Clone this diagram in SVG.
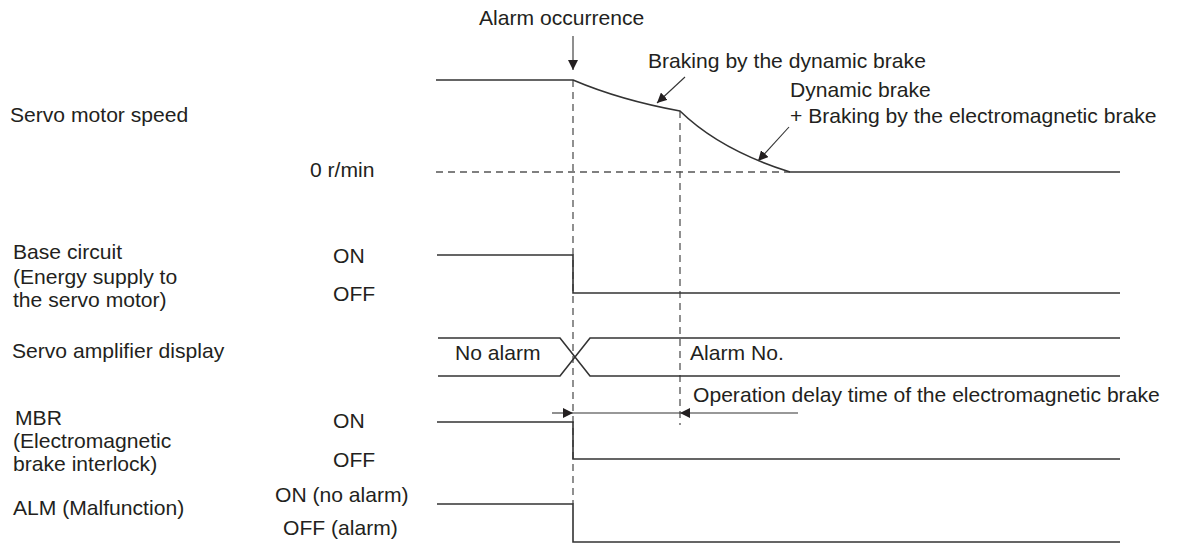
<svg xmlns="http://www.w3.org/2000/svg" width="1182" height="556" viewBox="0 0 1182 556">
<defs>
<style>
text{font-family:"Liberation Sans",Arial,sans-serif;font-size:21.1px;fill:#231f20}
.sig{fill:none;stroke:#333;stroke-width:1.6}
.thin{fill:none;stroke:#333;stroke-width:1.1}
.dash{fill:none;stroke:#555;stroke-width:1.3;stroke-dasharray:7,5}
</style>
<marker id="ah" viewBox="0 0 10 10" refX="10" refY="5" markerWidth="10" markerHeight="10" markerUnits="userSpaceOnUse" orient="auto"><path d="M0,0 L10,5 L0,10 z" fill="#231f20"/></marker>
</defs>
<rect width="1182" height="556" fill="#fff"/>
<g id="labels">
<text x="10" y="122">Servo motor speed</text>
<text x="310" y="177">0 r/min</text>
<text x="13" y="259">Base circuit</text>
<text x="13" y="284">(Energy supply to</text>
<text x="13" y="307">the servo motor)</text>
<text x="333" y="263">ON</text>
<text x="333" y="301">OFF</text>
<text x="12" y="358">Servo amplifier display</text>
<text x="15" y="425">MBR</text>
<text x="13" y="448">(Electromagnetic</text>
<text x="13" y="471">brake interlock)</text>
<text x="333" y="428">ON</text>
<text x="333" y="467">OFF</text>
<text x="13" y="515">ALM (Malfunction)</text>
<text x="275" y="502">ON (no alarm)</text>
<text x="283" y="535">OFF (alarm)</text>
</g>
<g id="annotations">
<text x="479" y="25">Alarm occurrence</text>
<text x="648" y="68">Braking by the dynamic brake</text>
<text x="790" y="97">Dynamic brake</text>
<text x="790" y="123">+ Braking by the electromagnetic brake</text>
<text x="693" y="402">Operation delay time of the electromagnetic brake</text>
</g>
<g id="connectors">
<line class="dash" x1="573" y1="80" x2="573" y2="504"/>
<line class="dash" x1="680" y1="111" x2="680" y2="425"/>
<line class="dash" x1="436" y1="172" x2="790" y2="172"/>
<line class="thin" x1="573" y1="36" x2="573" y2="70" marker-end="url(#ah)"/>
<line class="thin" x1="685" y1="77" x2="657" y2="103" marker-end="url(#ah)"/>
<line class="thin" x1="789" y1="127" x2="758" y2="161" marker-end="url(#ah)"/>
<line class="thin" x1="552" y1="413" x2="573" y2="413" marker-end="url(#ah)"/>
<line class="thin" x1="798" y1="413" x2="680" y2="413" marker-end="url(#ah)"/>
<line class="thin" x1="573" y1="413" x2="680" y2="413"/>
</g>
<g id="speed">
<path class="sig" d="M436,80 H573 Q620,100 680,111 Q720,150 790,172 H1120"/>
</g>
<g id="base-circuit">
<path class="sig" d="M437,255 H573 V293 H1120"/>
</g>
<g id="display">
<path class="sig" d="M438,338 H560 L590,376 H1120 M438,376 H560 L590,338 H1120"/>
<text x="455" y="360">No alarm</text>
<text x="690" y="360">Alarm No.</text>
</g>
<g id="mbr">
<path class="sig" d="M437,422 H573 V459 H1120"/>
</g>
<g id="alm">
<path class="sig" d="M437,504 H573 V542 H1120"/>
</g>
</svg>
